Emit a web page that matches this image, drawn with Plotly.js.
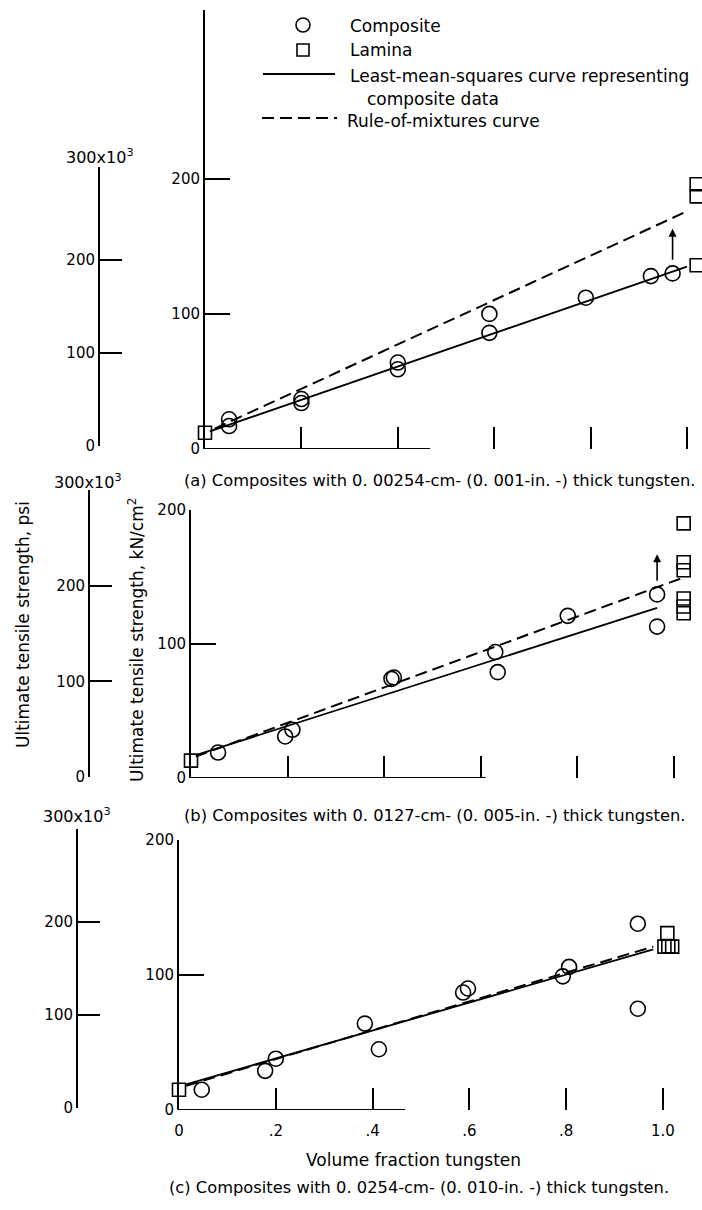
<!DOCTYPE html>
<html>
<head>
<meta charset="utf-8">
<script src="https://cdn.plot.ly/plotly-3.0.1.min.js"></script>
<style>html,body{margin:0;padding:0;background:#fff;}#chart{width:702px;height:1210px;}</style>
</head>
<body>
<div id="chart"></div>
<script>
// ---------- DATA ----------
// x ticks
const xTickVals = [0.2, 0.4, 0.6, 0.8, 1.0];
const xTickValsC = [0, 0.2, 0.4, 0.6, 0.8, 1.0];
const xTickTextC = ['0', '.2', '.4', '.6', '.8', '1.0'];
const kNTickVals = [0, 100, 200];
const kNTickText = ['0', '100', '200'];
const psiTickVals = [0, 100, 200, 300];
const psiTickText = ['0', '100', '200', ' '];

// Panel (a) 0.00254-cm tungsten
const aCompX = [0.05, 0.05, 0.2, 0.2, 0.4, 0.4, 0.59, 0.59, 0.79, 0.925, 0.97];
const aCompY = [17, 22, 34, 37, 59, 64, 86, 100, 112, 128, 130];
const aLamX = [0, 1.02, 1.02, 1.02];
const aLamY = [12, 136, 187, 196];
const aLmsX = [0.01, 1.0];
const aLmsY = [13, 135];
const aRomX = [0.02, 1.0];
const aRomY = [15, 176];
const aArrow = {x: 0.97, from: 139, to: 163};

// Panel (b) 0.0127-cm tungsten
const bCompX = [0.056, 0.195, 0.21, 0.415, 0.42, 0.63, 0.635, 0.78, 0.965, 0.965];
const bCompY = [19, 31, 36, 74, 75, 94, 79, 121, 137, 113];
const bLamX = [0, 1.02, 1.02, 1.02, 1.02, 1.02, 1.02];
const bLamY = [13, 190, 161, 155, 134, 128, 123];
const bLmsX = [0.01, 0.965];
const bLmsY = [17, 127];
const bRomX = [0.01, 1.015];
const bRomY = [16, 149];
const bArrow = {x: 0.965, from: 146, to: 167};

// Panel (c) 0.0254-cm tungsten
const cCompX = [0.047, 0.178, 0.2, 0.384, 0.413, 0.587, 0.597, 0.793, 0.806, 0.948, 0.948];
const cCompY = [15, 29, 38, 64, 45, 87, 90, 99, 106, 138, 75];
const cLamX = [0.0, 1.009, 1.003, 1.011, 1.019];
const cLamY = [15, 131, 121, 121, 121];
const cLmsX = [0.015, 0.98];
const cLmsY = [19, 119];
const cRomX = [0.015, 0.98];
const cRomY = [18, 121];

// partial x-axis line extents
const axisLineEnd = [0.467, 0.61, 0.467];

// ---------- LAYOUT HELPERS ----------
const W = 702, H = 1210;
const FONT = 'DejaVu Sans, sans-serif';
const px = x => x / W;
const py = y => 1 - y / H;
const xdom = (a, b) => [a / W, b / W];
const ydom = (bottom, top) => [1 - bottom / H, 1 - top / H];

function mainX(domain, anchor, showLabels) {
  return {
    domain, anchor, range: [0, 1.03], showline: false, zeroline: false, showgrid: false,
    ticks: 'inside', ticklen: 22, tickwidth: 2, tickcolor: 'black',
    tickvals: showLabels ? xTickValsC : xTickVals,
    ticktext: showLabels ? xTickTextC : undefined,
    showticklabels: showLabels, ticklabelstandoff: 10,
    tickfont: {family: FONT, size: 15, color: 'black'}
  };
}
function mainY(domain, anchor, top) {
  return {
    domain, anchor, range: [0, top], showline: true, linewidth: 2, linecolor: 'black',
    ticks: 'inside', ticklen: 25, tickwidth: 2, tickcolor: 'black',
    tickvals: kNTickVals, ticktext: kNTickText, zeroline: false, showgrid: false,
    tickfont: {family: FONT, size: 15, color: 'black'}
  };
}
function psiX(pos) {
  return {domain: [pos / W, (pos + 10) / W], range: [0, 1], visible: false};
}
function psiY(domain, anchor) {
  return {
    domain, anchor, range: [0, 300], showline: true, linewidth: 2, linecolor: 'black',
    ticks: 'inside', ticklen: 22, tickwidth: 2, tickcolor: 'black',
    tickvals: psiTickVals, ticktext: psiTickText, zeroline: false, showgrid: false,
    tickfont: {family: FONT, size: 15, color: 'black'}
  };
}

function panelTraces(xa, ya, compX, compY, lamX, lamY, lmsX, lmsY, romX, romY) {
  return [
    {x: lmsX, y: lmsY, xaxis: xa, yaxis: ya, mode: 'lines', line: {color: 'black', width: 1.8}, hoverinfo: 'skip'},
    {x: romX, y: romY, xaxis: xa, yaxis: ya, mode: 'lines', line: {color: 'black', width: 2, dash: '12px,6px'}, hoverinfo: 'skip'},
    {x: compX, y: compY, xaxis: xa, yaxis: ya, mode: 'markers', cliponaxis: false,
     marker: {symbol: 'circle-open', size: 15, color: 'black', line: {width: 1.6, color: 'black'}}},
    {x: lamX, y: lamY, xaxis: xa, yaxis: ya, mode: 'markers', cliponaxis: false,
     marker: {symbol: 'square-open', size: 13, color: 'black', line: {width: 1.6, color: 'black'}}}
  ];
}

const data = [].concat(
  panelTraces('x', 'y', aCompX, aCompY, aLamX, aLamY, aLmsX, aLmsY, aRomX, aRomY),
  panelTraces('x2', 'y2', bCompX, bCompY, bLamX, bLamY, bLmsX, bLmsY, bRomX, bRomY),
  panelTraces('x3', 'y3', cCompX, cCompY, cLamX, cLamY, cLmsX, cLmsY, cRomX, cRomY),
  [
    {x: [null], y: [null], xaxis: 'x4', yaxis: 'y4', mode: 'markers', hoverinfo: 'skip'},
    {x: [null], y: [null], xaxis: 'x5', yaxis: 'y5', mode: 'markers', hoverinfo: 'skip'},
    {x: [null], y: [null], xaxis: 'x6', yaxis: 'y6', mode: 'markers', hoverinfo: 'skip'}
  ]
);

const txt = (text, x, y, size, opts = {}) => Object.assign({
  text, x: px(x), y: py(y), xref: 'paper', yref: 'paper', showarrow: false,
  xanchor: 'left', yanchor: 'middle', font: {family: FONT, size: size, color: 'black'}
}, opts);

const arrow = (xa, ya, a) => ({
  x: a.x, y: a.to, ax: a.x, ay: a.from, xref: xa, yref: ya, axref: xa, ayref: ya,
  showarrow: true, arrowhead: 2, arrowsize: 1, arrowwidth: 1.6, arrowcolor: 'black', text: ''
});

const annotations = [
  // legend text
  txt('Composite', 348, 26, 17),
  txt('Lamina', 348, 50, 17),
  txt('Least-mean-squares curve representing', 348, 76, 17),
  txt('composite data', 365, 99, 17),
  txt('Rule-of-mixtures curve', 345, 121, 17),
  // psi unit labels
  txt('300x10<sup>3</sup>', 100, 157, 16, {xanchor: 'center'}),
  txt('300x10<sup>3</sup>', 88, 482, 16, {xanchor: 'center'}),
  txt('300x10<sup>3</sup>', 77, 815, 16, {xanchor: 'center'}),
  // axis titles
  txt('Ultimate tensile strength, psi', 23, 625, 17, {xanchor: 'center', textangle: -90}),
  txt('Ultimate tensile strength, kN/cm<sup>2</sup>', 136, 640, 17, {xanchor: 'center', textangle: -90}),
  txt('Volume fraction tungsten', 413, 1160, 17, {xanchor: 'center'}),
  // captions
  txt('(a) Composites with 0. 00254-cm- (0. 001-in. -) thick tungsten.', 182, 480, 16.3),
  txt('(b) Composites with 0. 0127-cm- (0. 005-in. -) thick tungsten.', 182, 815, 16.3),
  txt('(c) Composites with 0. 0254-cm- (0. 010-in. -) thick tungsten.', 167, 1187, 16.3),
  // arrows
  arrow('x', 'y', aArrow),
  arrow('x2', 'y2', bArrow)
];

const shapes = [
  // partial x-axis lines
  {type: 'line', xref: 'x', yref: 'y', x0: 0, x1: axisLineEnd[0], y0: 0, y1: 0, line: {color: 'black', width: 1.8}},
  {type: 'line', xref: 'x2', yref: 'y2', x0: 0, x1: axisLineEnd[1], y0: 0, y1: 0, line: {color: 'black', width: 1.8}},
  {type: 'line', xref: 'x3', yref: 'y3', x0: 0, x1: axisLineEnd[2], y0: 0, y1: 0, line: {color: 'black', width: 1.8}},
  // legend symbols
  {type: 'circle', xref: 'paper', yref: 'paper', x0: px(296), x1: px(310), y0: py(32), y1: py(18), line: {color: 'black', width: 1.6}},
  {type: 'rect', xref: 'paper', yref: 'paper', x0: px(297), x1: px(309), y0: py(56), y1: py(44), line: {color: 'black', width: 1.6}},
  {type: 'line', xref: 'paper', yref: 'paper', x0: px(263), x1: px(335), y0: py(74), y1: py(74), line: {color: 'black', width: 1.8}},
  {type: 'line', xref: 'paper', yref: 'paper', x0: px(262), x1: px(337), y0: py(118), y1: py(118), line: {color: 'black', width: 2, dash: '12px,6px'}}
];

const layout = {
  width: W, height: H, margin: {l: 0, r: 0, t: 0, b: 0},
  paper_bgcolor: 'white', plot_bgcolor: 'rgba(0,0,0,0)', showlegend: false,
  font: {family: FONT, size: 15, color: 'black'},
  xaxis: mainX(xdom(205, 701.5), 'y', false),
  yaxis: mainY(ydom(449, 10), 'x', 325),
  xaxis2: mainX(xdom(191, 688.5), 'y2', false),
  yaxis2: mainY(ydom(778, 510), 'x2', 200),
  xaxis3: mainX(xdom(179, 677.5), 'y3', true),
  yaxis3: mainY(ydom(1110, 840), 'x3', 200),
  xaxis4: psiX(100), yaxis4: psiY(ydom(446, 167), 'x4'),
  xaxis5: psiX(90), yaxis5: psiY(ydom(777, 490), 'x5'),
  xaxis6: psiX(78), yaxis6: psiY(ydom(1108, 829), 'x6'),
  annotations, shapes
};

Plotly.newPlot('chart', data, layout, {staticPlot: true, displayModeBar: false});
</script>
</body>
</html>
